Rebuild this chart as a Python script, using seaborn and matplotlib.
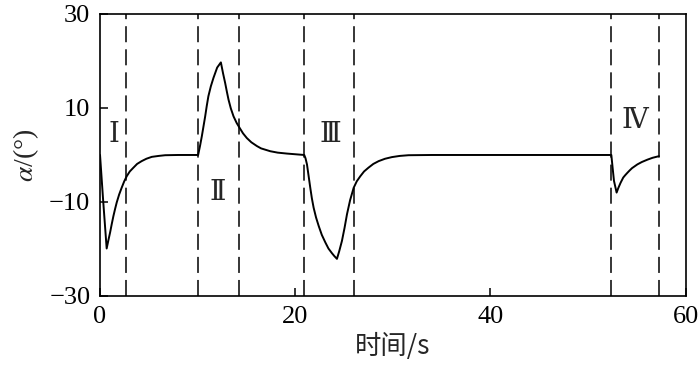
import matplotlib
matplotlib.use("Agg")
import matplotlib.pyplot as plt
import seaborn as sns
import pandas as pd

# ---- data ----
time_s = [0.0, 0.31, 0.68, 0.85, 1.03, 1.2, 1.37, 1.54, 1.71, 1.96, 2.22, 2.48, 2.74,
          3.05, 3.42, 3.8, 4.27, 4.75, 5.3, 6.0, 6.67, 8.0,
          10.05, 10.25, 10.43, 10.6, 10.77, 10.93, 11.1, 11.35, 11.62, 12.0, 12.38,
          12.6, 12.82, 13.0, 13.16, 13.4, 13.68, 14.0, 14.29, 14.65, 15.04, 15.5,
          16.07, 16.5, 17.44, 18.2, 19.15, 20.92,
          21.05, 21.2, 21.37, 21.54, 21.7, 21.88, 22.13, 22.4, 22.72, 23.08, 23.4,
          23.76, 24.0, 24.27, 24.5, 24.78, 25.05, 25.3, 25.62, 25.98, 26.3, 26.67,
          27.05, 27.5, 28.0, 28.55, 29.2, 29.9, 30.7, 31.6, 34.0, 52.38,
          52.5, 52.65, 52.92, 53.1, 53.33, 53.6, 53.8, 54.02, 54.25, 54.5, 55.05,
          55.5, 56.07, 56.6, 57.26]
alpha_deg = [0.0, -9.4, -19.9, -18.2, -16.5, -14.7, -13.0, -11.5, -10.1, -8.4, -6.95, -5.6, -4.5,
             -3.5, -2.7, -1.9, -1.3, -0.8, -0.4, -0.2, -0.05, 0.0,
             0.0, 2.0, 4.0, 6.1, 8.2, 10.4, 12.5, 14.6, 16.4, 18.6, 19.7,
             17.4, 15.3, 13.4, 11.8, 9.9, 8.2, 6.8, 5.8, 4.6, 3.6, 2.7,
             1.9, 1.4, 0.8, 0.5, 0.3, 0.0,
             -0.7, -2.0, -4.5, -7.0, -9.2, -11.2, -13.3, -15.1, -17.0, -18.6, -19.9,
             -20.9, -21.5, -22.1, -20.5, -18.3, -15.5, -12.6, -9.6, -7.0, -5.6, -4.5,
             -3.5, -2.7, -1.9, -1.3, -0.8, -0.45, -0.2, -0.05, 0.0, 0.0,
             -2.5, -5.5, -8.0, -7.0, -5.9, -4.8, -4.3, -3.8, -3.3, -2.8, -2.0,
             -1.5, -1.0, -0.6, -0.25]
phase_bounds = [2.67, 10.02, 14.26, 20.85, 25.98, 52.38, 57.3]
phase_labels = ["Ⅰ", "Ⅱ", "Ⅲ", "Ⅳ"]
phase_label_t = [1.43, 12.04, 23.56, 54.8]
phase_label_a = [4.1, -8.2, 4.1, 7.1]
x_ticks = [0, 20, 40, 60]
y_ticks = [-30, -10, 10, 30]

sns.set_theme(style="white")
plt.rcParams["font.family"] = ["Liberation Serif", "DejaVu Serif", "Noto Sans CJK SC"]
plt.rcParams["mathtext.fontset"] = "stix"

fig = plt.figure(figsize=(7.0, 3.67), dpi=100)
ax = fig.add_axes([0.1429, 0.1935, 0.8367, 0.7684])

df = pd.DataFrame({"t": time_s, "a": alpha_deg})
sns.lineplot(data=df, x="t", y="a", ax=ax, color="black", linewidth=1.4,
             estimator=None, sort=False)

for xb in phase_bounds:
    ax.axvline(xb, color="black", linewidth=1.1, dashes=(10.5, 4.6))

for lab, tx, ty in zip(phase_labels, phase_label_t, phase_label_a):
    ax.text(tx, ty, lab, ha="center", va="center", fontsize=20,
            family=["Liberation Serif", "DejaVu Serif", "Noto Sans CJK SC"])

ax.set_xlim(0, 60)
ax.set_ylim(-30, 30)
ax.set_xticks(x_ticks)
ax.set_yticks(y_ticks)
ax.set_xticklabels([str(v) for v in x_ticks])
ax.set_yticklabels([str(v).replace("-", "\u2212") for v in y_ticks])
ax.tick_params(direction="in", length=6, width=1.1, labelsize=19, pad=7,
               colors="black", bottom=True, left=True, top=False, right=False)

for sp in ax.spines.values():
    sp.set_color("black")
    sp.set_linewidth(1.2)

ax.set_xlabel("时间/s", fontsize=19, labelpad=4,
              family=["Noto Sans CJK SC", "Liberation Serif"])
ax.set_ylabel(r"$\alpha$/(°)", fontsize=20, labelpad=6)

fig.savefig("out.png", dpi=100)
